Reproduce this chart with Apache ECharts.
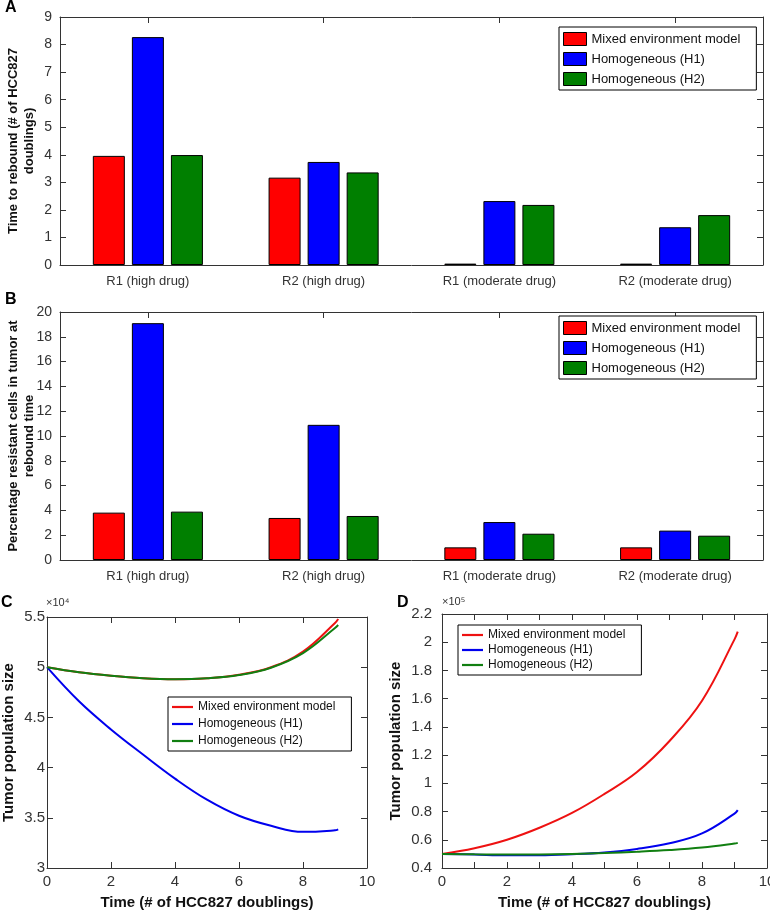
<!DOCTYPE html>
<html>
<head>
<meta charset="utf-8">
<script src="https://cdn.jsdelivr.net/npm/echarts@6/dist/echarts.min.js"></script>
<style>
html,body{margin:0;padding:0;background:#fff;}
#chart{width:770px;height:910px;}
</style>
</head>
<body>
<div id="chart"></div>
<script>
// ---- data ----
const categories = ['R1 (high drug)', 'R2 (high drug)', 'R1 (moderate drug)', 'R2 (moderate drug)'];
const seriesNames = ['Mixed environment model', 'Homogeneous (H1)', 'Homogeneous (H2)'];

// Panel A: time to rebound (# of HCC827 doublings)
const reboundMixed = [3.96, 3.17, 0.05, 0.05];
const reboundH1    = [8.27, 3.74, 2.32, 1.37];
const reboundH2    = [3.99, 3.36, 2.18, 1.81];

// Panel B: percentage resistant cells at rebound time
const resistMixed = [3.82, 3.39, 1.02, 1.02];
const resistH1    = [19.1, 10.9, 3.06, 2.37];
const resistH2    = [3.90, 3.55, 2.12, 1.96];

// Panels C, D: time points (# of HCC827 doublings)
const timePoints = [0, 1, 2, 3, 4, 5, 6, 7, 8, 9, 9.1];

// Panel C: tumor population size (x10^4)
const popC_Mixed = [5.0, 4.95, 4.915, 4.89, 4.88, 4.89, 4.925, 5.0, 5.155, 5.44, 5.48];
const popC_H1    = [5.0, 4.66, 4.38, 4.13, 3.89, 3.68, 3.52, 3.42, 3.36, 3.375, 3.385];
const popC_H2    = [5.0, 4.95, 4.915, 4.89, 4.88, 4.89, 4.922, 4.995, 5.14, 5.39, 5.42];

// Panel D: tumor population size (x10^5)
const popD_Mixed = [0.5, 0.54, 0.60, 0.685, 0.79, 0.925, 1.08, 1.30, 1.585, 2.02, 2.075];
const popD_H1    = [0.5, 0.495, 0.49, 0.49, 0.497, 0.51, 0.535, 0.575, 0.645, 0.785, 0.81];
const popD_H2    = [0.5, 0.497, 0.495, 0.496, 0.5, 0.506, 0.515, 0.527, 0.545, 0.573, 0.578];

const barColors = ['#ff0000', '#0000ff', '#007f00'];
const lineColors = ['#ee1111', '#0000ee', '#117f11'];

// ---- helpers ----
const FONT = 'Liberation Sans, Arial, sans-serif';
const AX = '#333';
function axisBase(extra) {
  return Object.assign({
    axisLine: { show: true, onZero: false, lineStyle: { color: AX, width: 1 } },
    axisTick: { show: true, inside: true, length: 6, lineStyle: { color: AX } },
    splitLine: { show: false },
    axisLabel: { color: '#333', fontFamily: FONT, fontSize: 14 }
  }, extra);
}
function pairs(xs, ys) { return xs.map((x, i) => [x, ys[i]]); }

const xAxis = [];
const yAxis = [];
// bar grids 0,1
[0, 1].forEach(g => {
  xAxis.push(axisBase({ gridIndex: g, type: 'category', data: categories, position: 'bottom',
    axisTick: { show: true, inside: true, length: 6, alignWithLabel: true, lineStyle: { color: AX } },
    axisLabel: { color: '#333', fontFamily: FONT, fontSize: 13, margin: 10 } }));
  xAxis.push(axisBase({ gridIndex: g, type: 'category', data: categories, position: 'top',
    axisTick: { show: true, inside: true, length: 6, alignWithLabel: true, lineStyle: { color: AX } },
    axisLabel: { show: false } }));
});
const barTitleStyle = { fontFamily: FONT, fontWeight: 'bold', fontSize: 13, lineHeight: 16, color: '#111' };
yAxis.push(axisBase({ gridIndex: 0, type: 'value', min: 0, max: 9, interval: 1, position: 'left',
  axisLabel: { color: '#333', fontFamily: FONT, fontSize: 14, margin: 8 },
  name: 'Time to rebound (# of HCC827\ndoublings)', nameLocation: 'middle', nameGap: 23, nameMoveOverlap: false,
  nameTextStyle: barTitleStyle }));
yAxis.push(axisBase({ gridIndex: 0, type: 'value', min: 0, max: 9, interval: 1, position: 'right', axisLabel: { show: false } }));
yAxis.push(axisBase({ gridIndex: 1, type: 'value', min: 0, max: 20, interval: 2, position: 'left',
  axisLabel: { color: '#333', fontFamily: FONT, fontSize: 14, margin: 8 },
  name: 'Percentage resistant cells in tumor at\nrebound time', nameLocation: 'middle', nameGap: 23, nameMoveOverlap: false,
  nameTextStyle: barTitleStyle }));
yAxis.push(axisBase({ gridIndex: 1, type: 'value', min: 0, max: 20, interval: 2, position: 'right', axisLabel: { show: false } }));

// line grid C (2)
const xTitle = 'Time (# of HCC827 doublings)';
const titleStyle = { fontFamily: FONT, fontWeight: 'bold', fontSize: 15, color: '#111' };
xAxis.push(axisBase({ gridIndex: 2, type: 'value', min: 0, max: 10, interval: 2, position: 'bottom',
  axisLabel: { color: '#333', fontFamily: FONT, fontSize: 15, margin: 6 },
  name: xTitle, nameLocation: 'middle', nameGap: 27, nameTextStyle: titleStyle }));
xAxis.push(axisBase({ gridIndex: 2, type: 'value', min: 0, max: 10, interval: 2, position: 'top', axisLabel: { show: false } }));
yAxis.push(axisBase({ gridIndex: 2, type: 'value', min: 3, max: 5.5, interval: 0.5, position: 'left',
  axisLabel: { color: '#333', fontFamily: FONT, fontSize: 15, margin: 2 },
  name: 'Tumor population size', nameLocation: 'middle', nameGap: 31, nameTextStyle: titleStyle }));
yAxis.push(axisBase({ gridIndex: 2, type: 'value', min: 3, max: 5.5, interval: 0.5, position: 'right', axisLabel: { show: false } }));

// line grid D (3)
xAxis.push(axisBase({ gridIndex: 3, type: 'value', min: 0, max: 10, interval: 1, position: 'bottom',
  axisLabel: { color: '#333', fontFamily: FONT, fontSize: 15, margin: 6, formatter: v => (v % 2 === 0 ? String(v) : '') },
  name: xTitle, nameLocation: 'middle', nameGap: 27, nameTextStyle: titleStyle }));
xAxis.push(axisBase({ gridIndex: 3, type: 'value', min: 0, max: 10, interval: 1, position: 'top', axisLabel: { show: false } }));
yAxis.push(axisBase({ gridIndex: 3, type: 'value', min: 0.4, max: 2.2, interval: 0.2, position: 'left',
  axisLabel: { color: '#333', fontFamily: FONT, fontSize: 15, margin: 10 },
  name: 'Tumor population size', nameLocation: 'middle', nameGap: 39, nameTextStyle: titleStyle }));
yAxis.push(axisBase({ gridIndex: 3, type: 'value', min: 0.4, max: 2.2, interval: 0.2, position: 'right', axisLabel: { show: false } }));

const series = [];
const barA = [reboundMixed, reboundH1, reboundH2];
const barB = [resistMixed, resistH1, resistH2];
barA.forEach((d, i) => series.push({ type: 'bar', name: seriesNames[i], xAxisIndex: 0, yAxisIndex: 0,
  data: d, barWidth: 32, barGap: '22%', itemStyle: { color: barColors[i], borderColor: '#000', borderWidth: 1 } }));
barB.forEach((d, i) => series.push({ type: 'bar', name: seriesNames[i], xAxisIndex: 2, yAxisIndex: 2,
  data: d, barWidth: 32, barGap: '22%', itemStyle: { color: barColors[i], borderColor: '#000', borderWidth: 1 } }));

const lineNames = seriesNames.map(n => n + ' ');
const lineC = [popC_Mixed, popC_H1, popC_H2];
const lineD = [popD_Mixed, popD_H1, popD_H2];
lineC.forEach((d, i) => series.push({ type: 'line', name: lineNames[i], xAxisIndex: 4, yAxisIndex: 4,
  data: pairs(timePoints, d), smooth: 0.4, symbol: 'none', showSymbol: false,
  lineStyle: { color: lineColors[i], width: 2 }, itemStyle: { color: lineColors[i] } }));
lineD.forEach((d, i) => series.push({ type: 'line', name: lineNames[i], xAxisIndex: 6, yAxisIndex: 6,
  data: pairs(timePoints, d), smooth: 0.4, symbol: 'none', showSymbol: false,
  lineStyle: { color: lineColors[i], width: 2 }, itemStyle: { color: lineColors[i] } }));

const barLegend = (top) => ({
  orient: 'vertical', left: 559, top: top, data: seriesNames, selectedMode: false,
  icon: 'rect', itemWidth: 23, itemHeight: 13, itemGap: 6, padding: [5, 16, 4, 4],
  borderColor: '#000', borderWidth: 1, backgroundColor: '#fff',
  itemStyle: { borderColor: '#000', borderWidth: 1 },
  textStyle: { fontFamily: FONT, fontSize: 13, color: '#111' }
});
const lineLegend = (left, top, gap) => ({
  orient: 'vertical', left: left, top: top, data: lineNames, selectedMode: false,
  icon: 'path://M0,0L21,0L21,2.2L0,2.2Z', symbolKeepAspect: true,
  itemWidth: 21, itemHeight: 12, itemGap: gap, padding: [4, 16, 4, 4],
  borderColor: '#000', borderWidth: 1, backgroundColor: '#fff',
  formatter: n => n.trim(),
  textStyle: { fontFamily: FONT, fontSize: 12, color: '#111' }
});

const option = {
  animation: false,
  backgroundColor: '#fff',
  grid: [
    { left: 60, top: 17, width: 703, height: 248, containLabel: false, outerBoundsMode: 'none' },
    { left: 60, top: 312, width: 703, height: 248, containLabel: false, outerBoundsMode: 'none' },
    { left: 47, top: 617, width: 320, height: 251, containLabel: false, outerBoundsMode: 'none' },
    { left: 442, top: 614, width: 325, height: 254, containLabel: false, outerBoundsMode: 'none' }
  ],
  xAxis: xAxis,
  yAxis: yAxis,
  legend: [barLegend(27), barLegend(316), lineLegend(168, 697, 5), lineLegend(458, 625, 3)],
  graphic: [
    { type: 'text', left: 5, top: 0, style: { text: 'A', font: 'bold 16px ' + FONT, fill: '#000' } },
    { type: 'text', left: 5, top: 292, style: { text: 'B', font: 'bold 16px ' + FONT, fill: '#000' } },
    { type: 'text', left: 1, top: 595, style: { text: 'C', font: 'bold 16px ' + FONT, fill: '#000' } },
    { type: 'text', left: 397, top: 595, style: { text: 'D', font: 'bold 16px ' + FONT, fill: '#000' } },
    { type: 'text', left: 46, top: 597, style: { text: '×10⁴', font: '11px ' + FONT, fill: '#333' } },
    { type: 'text', left: 442, top: 596, style: { text: '×10⁵', font: '11px ' + FONT, fill: '#333' } }
  ],
  series: series
};

const chart = echarts.init(document.getElementById('chart'), null, { renderer: 'canvas' });
chart.setOption(option);
</script>
</body>
</html>
